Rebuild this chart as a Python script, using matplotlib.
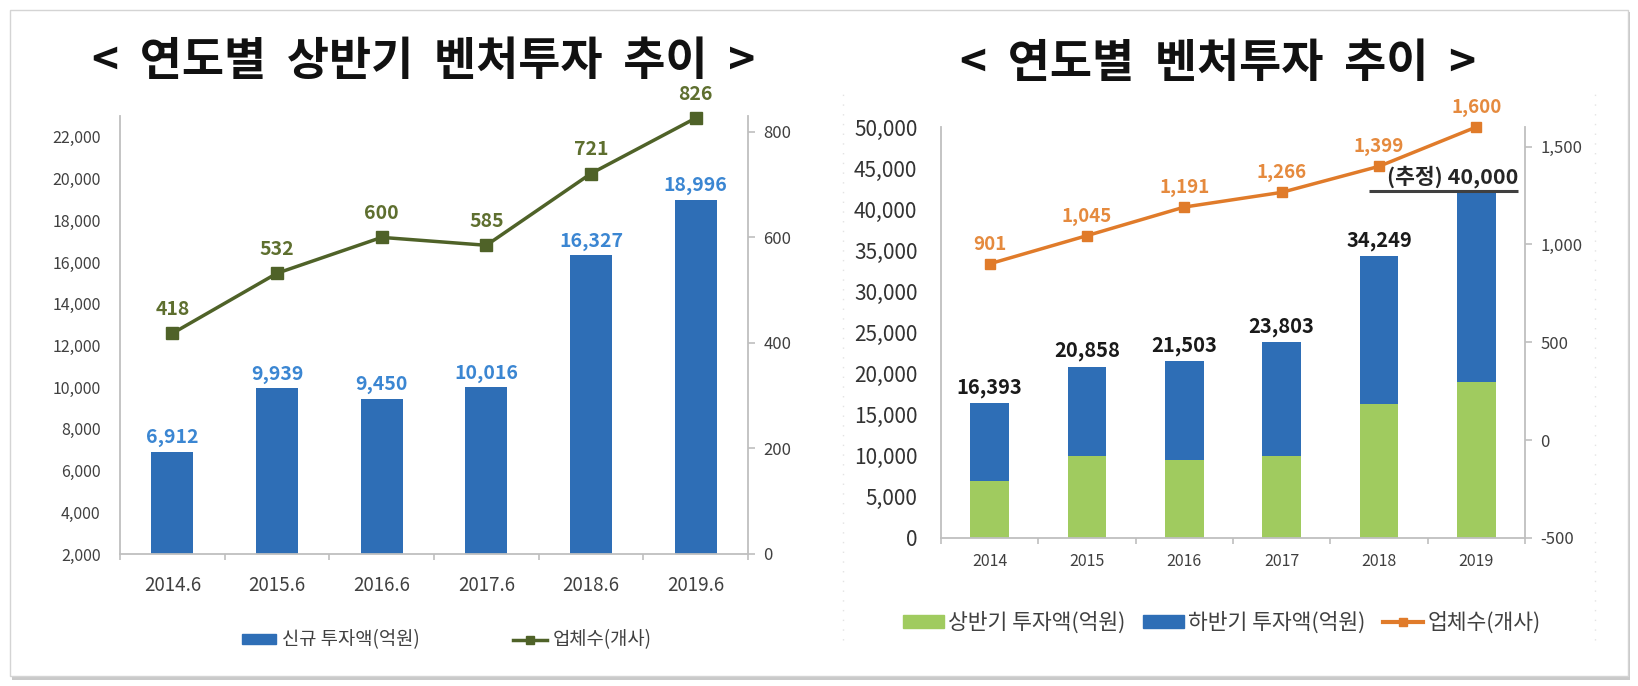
import matplotlib
matplotlib.use('Agg')
import matplotlib.pyplot as plt
from matplotlib.patches import Rectangle
from matplotlib.lines import Line2D

plt.rcParams['font.family'] = ['Noto Sans CJK KR', 'DejaVu Sans']

# ---- data ----
half_labels = ['2014.6', '2015.6', '2016.6', '2017.6', '2018.6', '2019.6']
year_labels = ['2014', '2015', '2016', '2017', '2018', '2019']
first_half = [6912, 9939, 9450, 10016, 16327, 18996]        # 상반기 투자액(억원)
companies_half = [418, 532, 600, 585, 721, 826]              # 상반기 업체수(개사)
year_totals = [16393, 20858, 21503, 23803, 34249, 40000]     # 연간 투자액(억원)
second_half = [9481, 10919, 12053, 13787, 17922, 23200]      # 하반기 투자액(억원), 2019
companies_year = [901, 1045, 1191, 1266, 1399, 1600]         # 연간 업체수(개사)

W, H = 1638, 686
BLUE = '#2E6EB6'
BLUE_TXT = '#3B86D2'
OLIVE = '#4F6228'
OLIVE_TXT = '#5E6F2F'
GREEN = '#A0CB5F'
ORANGE = '#E07B2A'
ORANGE_TXT = '#E58A3E'
AXIS = '#BFBFBF'
TXT = '#404040'


def px_axes(fig, left, top, right, bottom):
    return fig.add_axes([left / W, 1 - bottom / H, (right - left) / W, (bottom - top) / H])


def style_axes(ax, ax2, xlabels, xsize, xpad):
    n = len(xlabels)
    ax.set_xlim(-0.5, n - 0.5)
    for s in ['top', 'right']:
        ax.spines[s].set_visible(False)
    for s in ['left', 'bottom']:
        ax.spines[s].set_color(AXIS)
        ax.spines[s].set_linewidth(1.3)
    for s in ['top', 'left', 'bottom']:
        ax2.spines[s].set_visible(False)
    ax2.spines['right'].set_color(AXIS)
    ax2.spines['right'].set_linewidth(1.3)
    ax.set_xticks(range(n))
    ax.set_xticklabels(xlabels, fontsize=xsize, color=TXT)
    ax.set_xticks([i - 0.5 for i in range(n + 1)], minor=True)
    ax.tick_params(axis='x', which='major', length=0, pad=xpad)
    ax.tick_params(axis='x', which='minor', length=4, color=AXIS, width=1.2)
    ax2.tick_params(axis='y', length=5, color=AXIS, width=1.2, pad=6)


fig = plt.figure(figsize=(W / 100, H / 100), dpi=100)

# frame with shadow
fig.patches.append(Rectangle((12 / W, 1 - 680 / H), 1618 / W, 668 / H,
                             transform=fig.transFigure, facecolor='#C9C9C9',
                             edgecolor='none', zorder=-2))
fig.patches.append(Rectangle((10 / W, 1 - 676 / H), 1618 / W, 666 / H,
                             transform=fig.transFigure, facecolor='white',
                             edgecolor='#D4D4D4', linewidth=1, zorder=-1))
for xp in [843, 1595]:
    fig.add_artist(Line2D([xp / W, xp / W], [1 - 640 / H, 1 - 88 / H],
                          transform=fig.transFigure, color='#E3E3E3',
                          linestyle=(0, (1, 6)), linewidth=1))

# ---------------- left chart ----------------
ax = px_axes(fig, 120, 116, 748, 554)
ax2 = ax.twinx()
x = list(range(len(half_labels)))
ax.bar(x, first_half, width=0.4, color=BLUE, zorder=2)
ax.set_ylim(2000, 23000)
ax.set_yticks(range(2000, 22001, 2000))
ax.set_yticklabels([f'{v:,}' for v in range(2000, 22001, 2000)], fontsize=11.5, color=TXT)
ax.tick_params(axis='y', length=0, pad=14)
for xi, v in zip(x, first_half):
    ax.annotate(f'{v:,}', (xi, v), xytext=(0, 3), textcoords='offset points',
                ha='center', va='bottom', fontsize=14, fontweight='bold', color=BLUE_TXT)

ax2.plot(x, companies_half, color=OLIVE, linewidth=2.5, marker='s', markersize=8.5,
         clip_on=False, zorder=3)
ax2.set_ylim(0, 830)
ax2.set_yticks(range(0, 801, 200))
ax2.set_yticklabels([str(v) for v in range(0, 801, 200)], fontsize=12, color=TXT)
for xi, v in zip(x, companies_half):
    ax2.annotate(str(v), (xi, v), xytext=(0, 17), textcoords='offset points',
                 ha='center', va='center', fontsize=14, fontweight='bold', color=OLIVE_TXT)
style_axes(ax, ax2, half_labels, 13.5, 15)

ax.legend([Rectangle((0, 0), 1, 1, color=BLUE),
           Line2D([], [], color=OLIVE, linewidth=2.5, marker='s', markersize=6)],
          ['신규 투자액(억원)', '업체수(개사)'],
          loc='center', bbox_to_anchor=(447 / W, 1 - 640 / H),
          bbox_transform=fig.transFigure, ncol=2, frameon=False,
          fontsize=13.5, handlelength=1.8, handleheight=0.4, handletextpad=0.3,
          columnspacing=5.0, labelcolor=TXT)

# ---------------- right chart ----------------
bx = px_axes(fig, 941, 127, 1525, 538)
bx2 = bx.twinx()
x = list(range(len(year_labels)))
bx.bar(x, first_half, width=0.4, color=GREEN, zorder=2)
bx.bar(x, second_half, width=0.4, bottom=first_half, color=BLUE, zorder=2)
bx.set_ylim(0, 50000)
bx.set_yticks(range(0, 50001, 5000))
bx.set_yticklabels([f'{v:,}' for v in range(0, 50001, 5000)], fontsize=15, color='#333333')
bx.tick_params(axis='y', length=0, pad=17)
for xi, t in zip(x[:-1], year_totals[:-1]):
    bx.annotate(f'{t:,}', (xi, t), xytext=(0, 4), textcoords='offset points',
                ha='center', va='bottom', fontsize=14.5, fontweight='bold', color='#1A1A1A')
top_2019 = first_half[-1] + second_half[-1]
bx.annotate(f'(추정) {year_totals[-1]:,}', (x[-1] + 0.43, top_2019), xytext=(0, 2),
            textcoords='offset points', ha='right', va='bottom', fontsize=15.5,
            fontweight='bold', color='#262626', zorder=5)
bx.plot([x[-1] - 1.1, x[-1] + 0.43], [top_2019, top_2019], color='#404040',
        linewidth=2.2, solid_capstyle='butt', zorder=5)

bx2.plot(x, companies_year, color=ORANGE, linewidth=2.5, marker='s', markersize=6.5,
         clip_on=False, zorder=3)
bx2.set_ylim(-500, 1600)
bx2.set_yticks(range(-500, 1501, 500))
bx2.set_yticklabels([f'{v:,}' for v in range(-500, 1501, 500)], fontsize=12, color=TXT)
for xi, v in zip(x, companies_year):
    bx2.annotate(f'{v:,}', (xi, v), xytext=(0, 14), textcoords='offset points',
                 ha='center', va='center', fontsize=13.5, fontweight='bold', color=ORANGE_TXT)
style_axes(bx, bx2, year_labels, 11.5, 11)

bx.legend([Rectangle((0, 0), 1, 1, color=GREEN), Rectangle((0, 0), 1, 1, color=BLUE),
           Line2D([], [], color=ORANGE, linewidth=3, marker='s', markersize=6)],
          ['상반기 투자액(억원)', '하반기 투자액(억원)', '업체수(개사)'],
          loc='center', bbox_to_anchor=(1222 / W, 1 - 623 / H),
          bbox_transform=fig.transFigure, ncol=3, frameon=False,
          fontsize=15.5, handlelength=1.9, handleheight=0.55, handletextpad=0.2,
          columnspacing=0.8, labelcolor=TXT)

# titles
fig.text(424 / W, 1 - 62 / H, '<  연도별  상반기  벤처투자  추이  >', ha='center', va='center',
         fontsize=33, fontweight='bold', color='#111111')
fig.text(1218 / W, 1 - 64 / H, '<  연도별  벤처투자  추이  >', ha='center', va='center',
         fontsize=33, fontweight='bold', color='#111111')

fig.savefig('out.png', dpi=100)
